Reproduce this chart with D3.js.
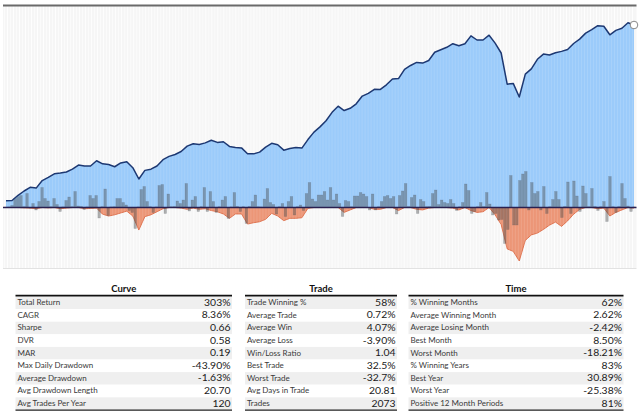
<!DOCTYPE html>
<html><head><meta charset="utf-8">
<script src="https://cdnjs.cloudflare.com/ajax/libs/d3/7.8.5/d3.min.js"></script>
<style>
html,body{margin:0;padding:0;background:#fff;}
svg{display:block;}
</style></head>
<body><svg id="c" width="640" height="412"></svg>
<script>
// ---- data ----
// equity growth of $1, one point every two months
const equity = [1.000,1.002,1.044,1.080,1.112,1.105,1.173,1.203,1.238,1.246,
1.256,1.284,1.327,1.318,1.317,1.373,1.340,1.332,1.309,1.349,
1.363,1.299,1.188,1.272,1.284,1.317,1.385,1.421,1.443,1.477,
1.542,1.571,1.563,1.582,1.616,1.588,1.596,1.538,1.526,1.520,
1.452,1.450,1.470,1.530,1.577,1.559,1.493,1.514,1.526,1.518,
1.624,1.723,1.796,1.886,2.016,2.116,2.045,2.081,2.157,2.293,
2.344,2.420,2.418,2.508,2.626,2.634,2.836,2.923,2.995,2.979,
3.041,3.248,3.313,3.377,3.474,3.420,3.472,3.696,3.578,3.578,
3.717,3.491,3.227,2.520,2.536,2.276,2.730,2.845,3.070,3.199,
3.177,3.233,3.269,3.318,3.480,3.603,3.779,3.883,4.008,3.992,
3.729,3.861,3.926,4.101,4.030];
// drawdown in %, same sampling as equity
const drawdown = [0,0,0,-0.3,-0.5,-1,0,-0.3,0,-1,
-0.5,0,0,-1,-0.8,-0.5,-5.5,-7,-6,-4.5,
-3,-7,-18.5,-7.5,-6,-3.5,-1,0,0,-0.5,
-1.5,-0.5,-1.5,-1,-2.5,-3.5,-5.3,-8.9,-5.3,-5.3,
-13.6,-12.5,-11.7,-9.7,-4.8,-7,-10.8,-8.9,-8.9,-8.4,
-0.7,0,0,0,0,0,-4,-2,0,0,
0,-1.5,-1.5,0,0,-2.5,0,0,-1.5,-2,
-0.5,0,0,0,-0.5,-2,0,-2.5,-4,-3.5,
0,-6,-14,-34,-36,-43.9,-27,-22.5,-21,-18,
-14.5,-12,-15.5,-11,-5.5,-1.5,0,0,-1,-0.5,
-7,-4,-2,0,-0.5];
// monthly bars
const monthly = [0.2,0.3,1,4.5,5.5,6,0.4,7,-0.3,2,
-1.25,3,10,4.5,3.25,0.4,4.5,1.5,-2,0.3,
3.5,5.25,0.4,8,0.75,0.5,-1,0.3,6,4.5,
6,-5.25,0.4,9.25,-4,0.3,0.4,4.5,4.5,2.5,
1.25,-1.5,-2.5,-10.5,0.3,9,10.5,3,0.4,-2.5,
0.3,11,11.5,-3,6.75,0.4,0.5,3.25,2,3.75,
12,-1.75,3.75,5.5,-2,0.4,10,-2,8,3,
-2.5,0.4,3.75,5.5,-5.5,0.3,7.5,0.5,-2,0.4,
-8,0.5,3,6.25,0.4,0.3,4.25,9.5,2.5,1.5,
-3.25,0.4,2,-4.5,3,5.5,-3.75,0.4,1.25,-1.5,
7,12.5,4.25,3,6.25,6.25,8,3.75,10,3.75,
6.75,2,-4.5,3.5,3,0.4,5.75,5.75,7.5,6.75,
5.5,-1.25,6.75,-1.25,0.4,3,5.5,6,4.5,5.5,
-3.25,6,8.25,12,0.5,5,6.25,-3,4,3,
0.4,0.5,7,8.75,1.5,3.75,2.5,2,4,2,
-1.5,0.4,2.5,11.75,8.5,-3,-2,0.4,2.5,0.5,
7.5,1.75,-3.75,-3,-6.25,-6,-18,-11,16,-8.75,
-8.75,13.5,16.75,18,-1.25,12.5,7,8,-1.25,10.5,
-3,0.4,4,8,4,-5,0.5,12.75,-3,13.25,
5.75,-2,10.75,7,0.4,9.5,0.5,-1.5,0.4,3,
-7,15.5,0.4,-2.5,0.5,12,4.5,0.75,-2,0.3];

const curveLabels = ["Total Return","CAGR","Sharpe","DVR","MAR","Max Daily Drawdown","Average Drawdown","Avg Drawdown Length","Avg Trades Per Year"];
const curveValues = ["303%","8.36%","0.66","0.58","0.19","-43.90%","-1.63%","20.70","120"];
const tradeLabels = ["Trade Winning %","Average Trade","Average Win","Average Loss","Win/Loss Ratio","Best Trade","Worst Trade","Avg Days in Trade","Trades"];
const tradeValues = ["58%","0.72%","4.07%","-3.90%","1.04","32.5%","-32.7%","20.81","2073"];
const timeLabels = ["% Winning Months","Average Winning Month","Average Losing Month","Best Month","Worst Month","% Winning Years","Best Year","Worst Year","Positive 12 Month Periods"];
const timeValues = ["62%","2.62%","-2.42%","8.50%","-18.21%","83%","30.89%","-25.38%","81%"];

// ---- drawing ----
const svg = d3.select("#c");
const L = 3, R = 636.5, T = 6, B = 268;
const base = 207.5;

const xBand = d3.scaleBand().domain(d3.range(monthly.length)).range([4.5, 635.5]).paddingInner(0.15).paddingOuter(0.07);
const xEq = d3.scaleLinear().domain([0, equity.length - 1]).range([6, 634]);
const yEq = d3.scaleLog().domain([1, 4.03]).range([200.7, 25]);
const yDD = d3.scaleLinear().domain([-43.9, 0]).range([261, base]);
const yBar = d3.scaleLinear().domain([-20, 20]).range([base + 40, base - 40]);

// background
svg.append("rect").attr("x", L).attr("y", T).attr("width", R - L).attr("height", B - T).attr("fill", "#f6f6f6");
const grid = svg.append("g");
grid.selectAll("line").data(d3.range(monthly.length)).join("line")
  .attr("x1", d => xBand(d) - 0.2).attr("x2", d => xBand(d) - 0.2)
  .attr("y1", T).attr("y2", B)
  .attr("stroke", "#ffffff").attr("stroke-width", 1).attr("opacity", d => d % 2 ? 0.95 : 0.65);

// equity area
const area = d3.area().x((d, i) => xEq(i)).y0(base).y1(d => yEq(d));
svg.append("path").datum(equity).attr("d", area).attr("fill", "#9bcbfa");

// drawdown area
const ddArea = d3.area().x((d, i) => xEq(i)).y0(base).y1(d => yDD(d));
svg.append("path").datum(drawdown).attr("d", ddArea).attr("fill", "#ec9677");
const ddLine = d3.line().x((d, i) => xEq(i)).y(d => yDD(d));
svg.append("path").datum(drawdown).attr("d", ddLine).attr("fill", "none").attr("stroke", "#dc6a45").attr("stroke-width", 0.9);

// faint grid over fills
svg.append("g").selectAll("line").data(d3.range(monthly.length)).join("line")
  .attr("x1", d => xBand(d) - 0.2).attr("x2", d => xBand(d) - 0.2)
  .attr("y1", T).attr("y2", B)
  .attr("stroke", "#ffffff").attr("stroke-width", 1).attr("opacity", 0.12);

// bars
svg.append("g").selectAll("rect").data(monthly).join("rect")
  .attr("x", (d, i) => xBand(i)).attr("width", xBand.bandwidth())
  .attr("y", d => Math.min(yBar(d), yBar(0)))
  .attr("height", d => Math.abs(yBar(d) - yBar(0)))
  .attr("fill", "#4a4a4a").attr("fill-opacity", 0.42)
  .attr("stroke", "#3d4a5a").attr("stroke-opacity", 0.25).attr("stroke-width", 0.6);

// equity line
const line = d3.line().x((d, i) => xEq(i)).y(d => yEq(d));
svg.append("path").datum(equity).attr("d", line).attr("fill", "none").attr("stroke", "#1d3872").attr("stroke-width", 1.5).attr("stroke-linejoin", "round");

// baseline
svg.append("line").attr("x1", L).attr("x2", R).attr("y1", base).attr("y2", base).attr("stroke", "#2a2050").attr("stroke-width", 1.6);

// end marker
svg.append("circle").attr("cx", xEq(equity.length - 1)).attr("cy", yEq(equity[equity.length - 1])).attr("r", 3.8)
  .attr("fill", "#fff").attr("stroke", "#888").attr("stroke-width", 1);

// frame
svg.append("line").attr("x1", L).attr("x2", R).attr("y1", 5.5).attr("y2", 5.5).attr("stroke", "#6a6a6a").attr("stroke-width", 2);
svg.append("line").attr("x1", L).attr("x2", R).attr("y1", B + 0.5).attr("y2", B + 0.5).attr("stroke", "#e2e2e2").attr("stroke-width", 1);

// tables
const rowH = 12.6, top0 = 296.5;
function table(x0, x1, title, labels, values) {
  const g = svg.append("g");
  const rows = d3.range(labels.length);
  g.selectAll("rect.row").data(rows).join("rect").attr("class", "row")
    .attr("x", x0).attr("width", x1 - x0)
    .attr("y", i => top0 + i * rowH).attr("height", rowH)
    .attr("fill", i => i % 2 === 0 ? "#efefef" : "#ffffff");
  g.append("text").attr("x", (x0 + x1) / 2).attr("y", 290).attr("text-anchor", "middle")
    .attr("dominant-baseline", "middle").attr("font-family", "Lato, 'Open Sans', sans-serif")
    .attr("font-weight", "bold").attr("font-size", 9.5).attr("fill", "#111").text(title);
  g.append("line").attr("x1", x0).attr("x2", x1).attr("y1", 295.6).attr("y2", 295.6).attr("stroke", "#111").attr("stroke-width", 1.6);
  g.append("line").attr("x1", x0).attr("x2", x1).attr("y1", top0 + labels.length * rowH + 0.3).attr("y2", top0 + labels.length * rowH + 0.3).attr("stroke", "#222").attr("stroke-width", 1.2);
  g.selectAll("text.lab").data(labels).join("text").attr("class", "lab")
    .attr("x", x0 + 2).attr("y", (d, i) => top0 + i * rowH + rowH / 2 + 0.3)
    .attr("dominant-baseline", "middle").attr("font-family", "Lato, sans-serif")
    .attr("font-size", 8).attr("fill", "#3a3a3a").text(d => d);
  g.selectAll("text.val").data(values).join("text").attr("class", "val")
    .attr("x", x1 - 1.5).attr("y", (d, i) => top0 + i * rowH + rowH / 2 + 0.3)
    .attr("text-anchor", "end")
    .attr("dominant-baseline", "middle").attr("font-family", "Lato, sans-serif")
    .attr("font-size", 10.4).attr("fill", "#1a1a1a").text(d => d);
}
table(15.5, 232, "Curve", curveLabels, curveValues);
table(245, 397, "Trade", tradeLabels, tradeValues);
table(408.5, 623.5, "Time", timeLabels, timeValues);
</script></body></html>
